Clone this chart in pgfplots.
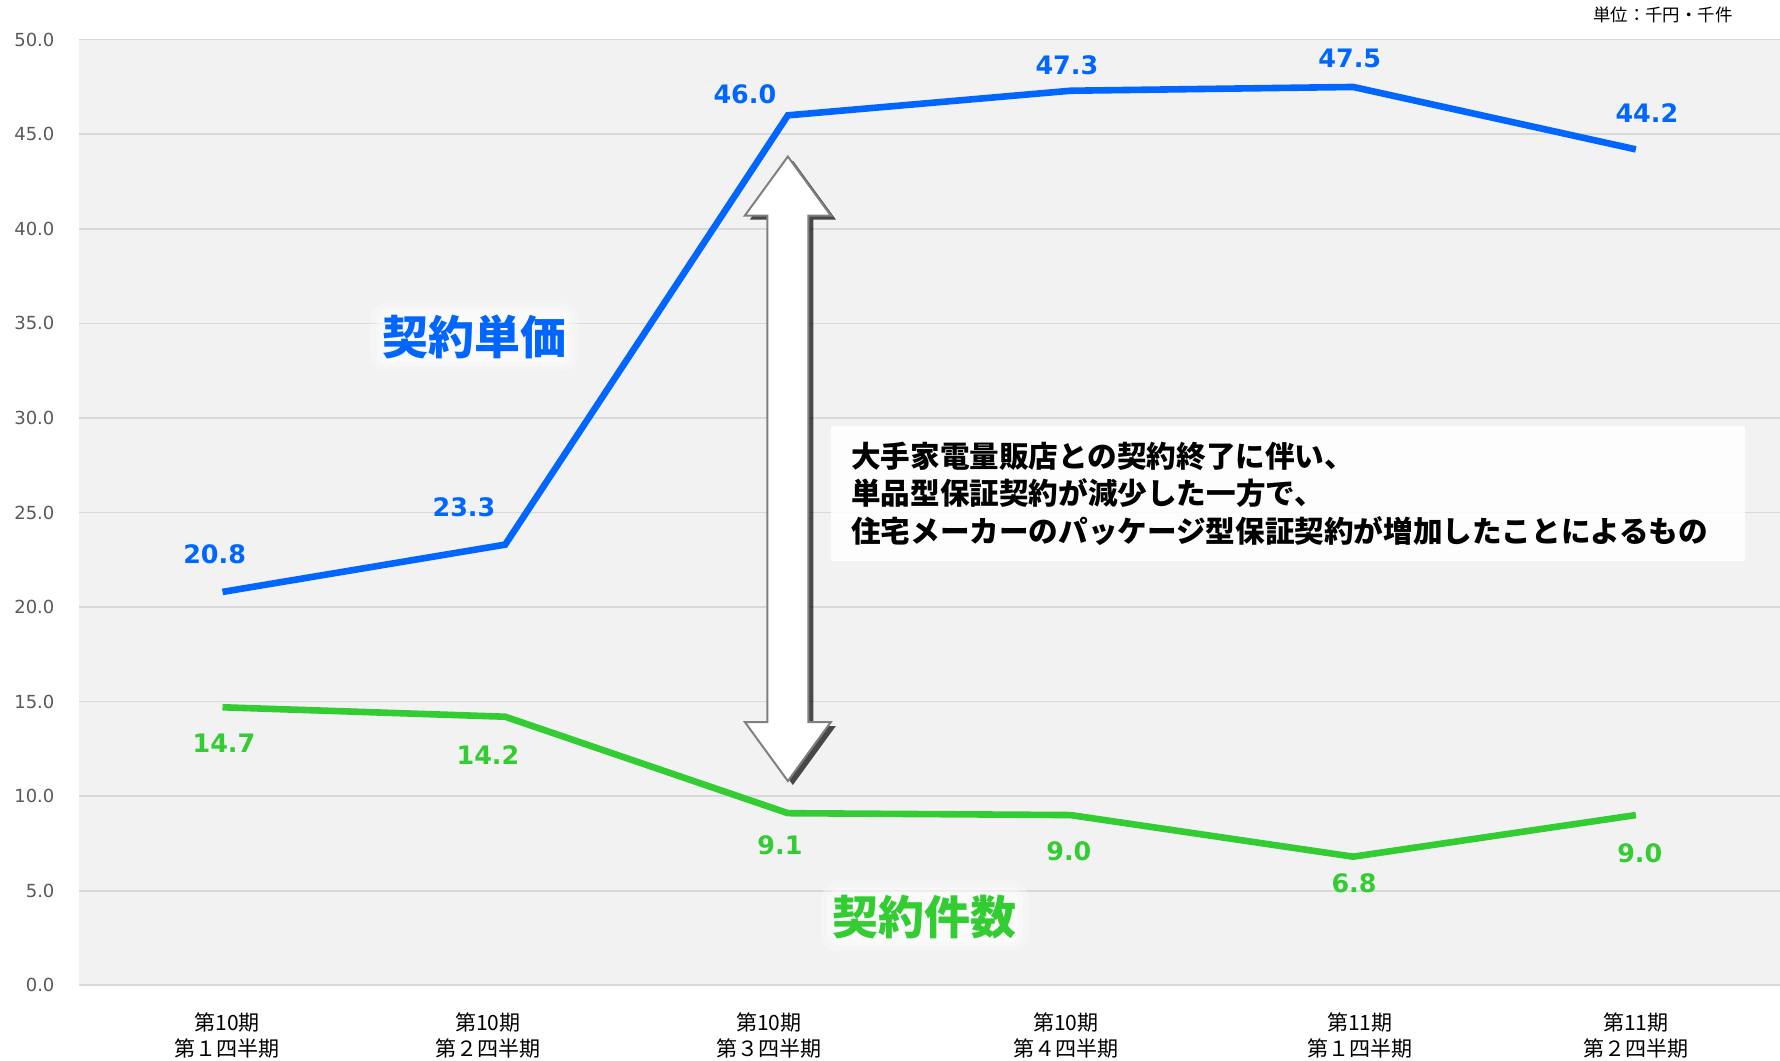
\documentclass[border=0pt]{standalone}
\usepackage{fontspec}
\setmainfont{DejaVu Sans}
\newfontfamily\jp{Noto Sans CJK JP}
\usepackage{pgfplots}
\pgfplotsset{compat=1.18}
\usetikzlibrary{shadows}
\definecolor{cblue}{HTML}{0066FF}
\definecolor{cgreen}{HTML}{33CC33}
\definecolor{tickgray}{HTML}{595959}
\definecolor{gridgray}{HTML}{D9D9D9}
\definecolor{bg}{HTML}{F2F2F2}
\newcommand\dl{\bfseries\fontsize{12.7}{15}\selectfont}
\begin{document}
\begin{tikzpicture}
\begin{axis}[
  name=ax, scale only axis, width=850.25pt, height=472.8pt,
  xmin=-0.506, xmax=5.51, ymin=0, ymax=50,
  axis background/.style={fill=bg},
  axis line style={draw=none},
  tick style={draw=none},
  ymajorgrids, grid style={gridgray, line width=0.8pt},
  ytick={0,5,...,50},
  /pgf/number format/fixed, /pgf/number format/fixed zerofill,
  /pgf/number format/precision=1, /pgf/number format/assume math mode=true,
  yticklabel style={font=\fontsize{9}{11}\selectfont, text=tickgray, xshift=-9pt},
  xtick={0.016,0.939,1.933,2.983,4.024,5.0},
  xticklabels={{第10期\\第１四半期},{第10期\\第２四半期},{第10期\\第３四半期},{第10期\\第４四半期},{第11期\\第１四半期},{第11期\\第２四半期}},
  xticklabel style={font=\jp\fontsize{10.5}{13.2}\selectfont, align=center, text=black, yshift=-10pt},
  clip=false,
]
\addplot[cblue, line width=3.3pt, mark=none] coordinates {(0,20.8) (1,23.3) (2,46.0) (3,47.3) (4,47.5) (5,44.2)};
\addplot[cgreen, line width=3.3pt, mark=none] coordinates {(0,14.7) (1,14.2) (2,9.1) (3,9.0) (4,6.8) (5,9.0)};

% data labels
\node[text=cblue, font=\dl] at (axis cs:-0.028,22.81) {20.8};
\node[text=cblue, font=\dl] at (axis cs:0.854,25.30) {23.3};
\node[text=cblue, font=\dl] at (axis cs:1.848,47.13) {46.0};
\node[text=cblue, font=\dl] at (axis cs:2.987,48.67) {47.3};
\node[text=cblue, font=\dl] at (axis cs:3.988,48.99) {47.5};
\node[text=cblue, font=\dl] at (axis cs:5.039,46.10) {44.2};
\node[text=cgreen, font=\dl] at (axis cs:0.005,12.79) {14.7};
\node[text=cgreen, font=\dl] at (axis cs:0.939,12.18) {14.2};
\node[text=cgreen, font=\dl] at (axis cs:1.972,7.42) {9.1};
\node[text=cgreen, font=\dl] at (axis cs:2.994,7.10) {9.0};
\node[text=cgreen, font=\dl] at (axis cs:4.003,5.41) {6.8};
\node[text=cgreen, font=\dl] at (axis cs:5.014,6.96) {9.0};

% soft white glow behind series names
\fill[white, fill opacity=0.3, rounded corners=8pt] (axis cs:0.891,34.28) ++(-52pt,-17pt) rectangle ++(104pt,34pt);
\fill[white, fill opacity=0.35, rounded corners=6pt] (axis cs:0.891,34.28) ++(-49pt,-14.5pt) rectangle ++(98pt,29pt);
\fill[white, fill opacity=0.4, rounded corners=4pt] (axis cs:0.891,34.28) ++(-46.5pt,-12.5pt) rectangle ++(93pt,25pt);
\fill[white, fill opacity=0.3, rounded corners=8pt] (axis cs:2.485,3.61) ++(-52pt,-17pt) rectangle ++(104pt,34pt);
\fill[white, fill opacity=0.35, rounded corners=6pt] (axis cs:2.485,3.61) ++(-49pt,-14.5pt) rectangle ++(98pt,29pt);
\fill[white, fill opacity=0.4, rounded corners=4pt] (axis cs:2.485,3.61) ++(-46.5pt,-12.5pt) rectangle ++(93pt,25pt);
\node[text=cblue, font=\jp\bfseries\fontsize{23}{26}\selectfont] at (axis cs:0.891,34.28) {契約単価};
\node[text=cgreen, font=\jp\bfseries\fontsize{23}{26}\selectfont] at (axis cs:2.485,3.61) {契約件数};

% double arrow
\coordinate (T) at (axis cs:2,43.82);
\coordinate (B) at (axis cs:2,10.80);
\draw[fill=white, draw=gray, line width=1pt, line join=miter,
      drop shadow={shadow xshift=2.5pt, shadow yshift=-2pt, fill=black, opacity=0.7}]
  (T) -- ([xshift=21.5pt,yshift=-29.5pt]T) -- ([xshift=10.2pt,yshift=-29.5pt]T)
  -- ([xshift=10.2pt,yshift=29.5pt]B) -- ([xshift=21.5pt,yshift=29.5pt]B) -- (B)
  -- ([xshift=-21.5pt,yshift=29.5pt]B) -- ([xshift=-10.2pt,yshift=29.5pt]B)
  -- ([xshift=-10.2pt,yshift=-29.5pt]T) -- ([xshift=-21.5pt,yshift=-29.5pt]T) -- cycle;

% annotation box
\node[anchor=north west, fill=white, fill opacity=0.85, text opacity=1,
      text width=437pt, inner xsep=10pt, minimum height=67.5pt, align=left,
      font=\jp\bfseries\fontsize{14.8}{18.7}\selectfont]
  at (axis cs:2.152,29.58)
  {大手家電量販店との契約終了に伴い、\\単品型保証契約が減少した一方で、\\住宅メーカーのパッケージ型保証契約が増加したことによるもの};

% unit
\node[font=\jp\fontsize{8.7}{10}\selectfont] at (axis cs:5.096,51.31) {単位：千円・千件};
\end{axis}
\pgfresetboundingbox
\path[use as bounding box] ([xshift=-39.75pt,yshift=-37.85pt]ax.south west) rectangle ([yshift=19.85pt]ax.north east);
\end{tikzpicture}
\end{document}
